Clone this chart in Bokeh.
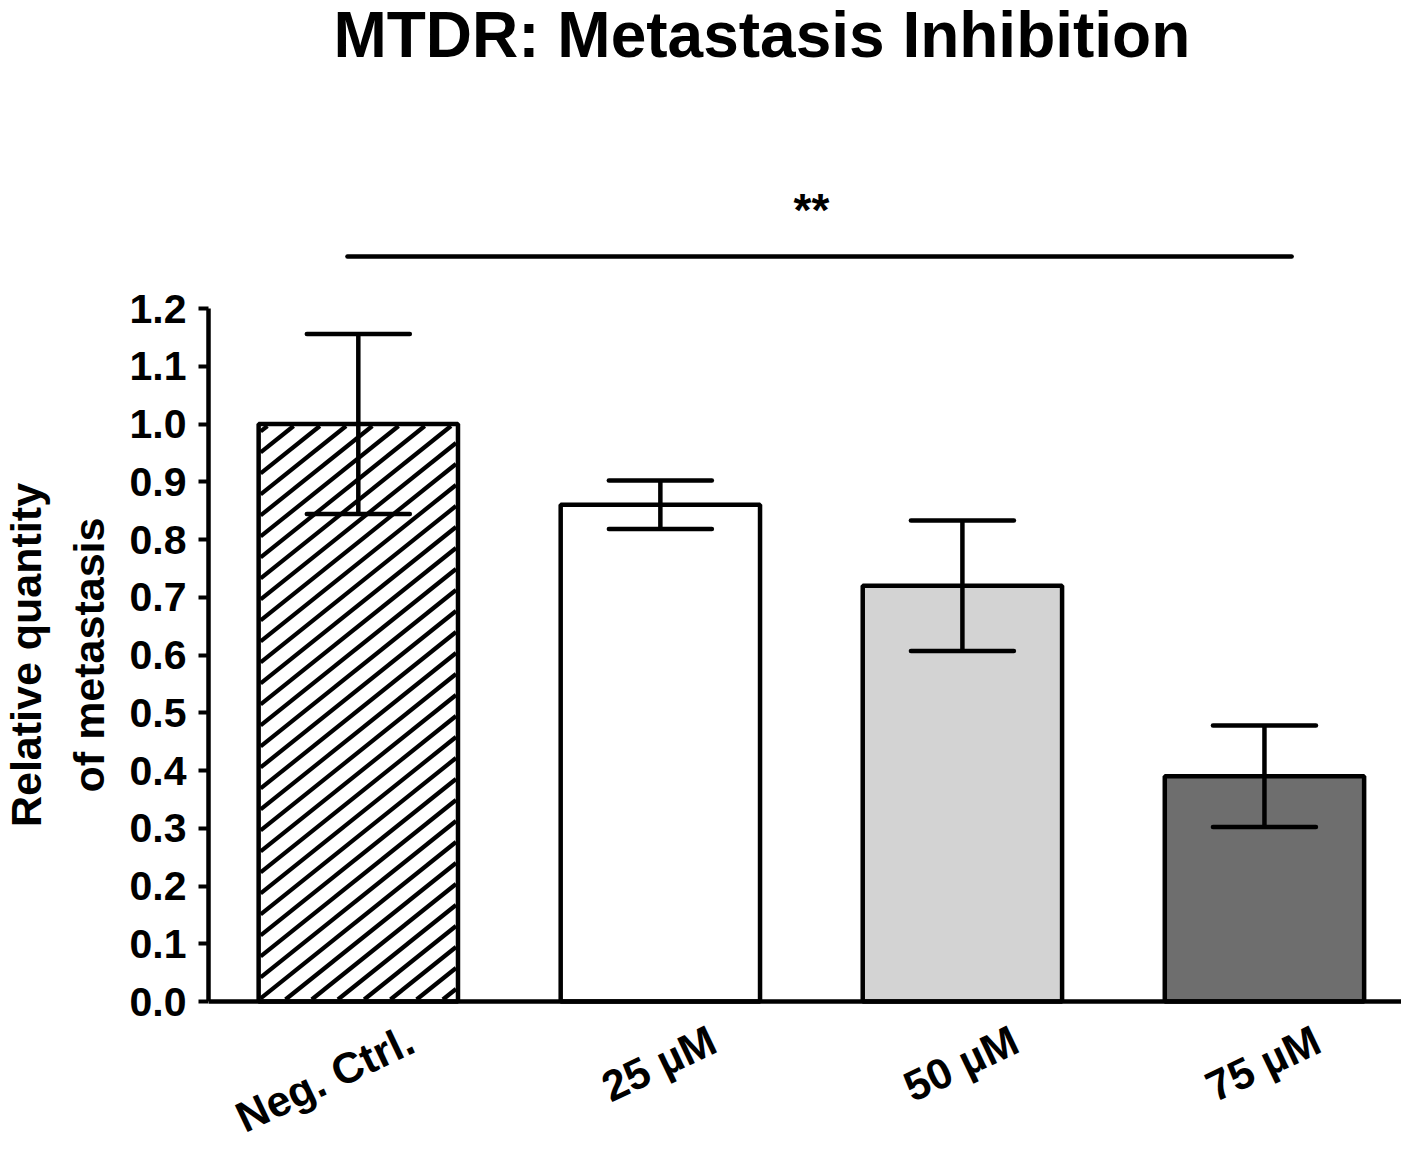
import numpy as np
from bokeh.plotting import figure
from bokeh.models import (ColumnDataSource, Whisker, TeeHead, FixedTicker, NumeralTickFormatter,
                          Range1d, Title, Span)
from bokeh.core.properties import value
from bokeh.embed import file_html
from bokeh.resources import INLINE

# ---- data ----
categories = ["Neg. Ctrl.", "25 µM", "50 µM", "75 µM"]
means = [1.00, 0.86, 0.72, 0.39]
sem = [0.156, 0.042, 0.113, 0.088]
fill_colors = ["white", "white", "#d3d3d3", "#6e6e6e"]
hatched = [True, False, False, False]
y_ticks = [0.0, 0.1, 0.2, 0.3, 0.4, 0.5, 0.6, 0.7, 0.8, 0.9, 1.0, 1.1, 1.2]
title_text = "MTDR: Metastasis Inhibition"
sig_text = "**"
y_label_lines = ["Relative quantity", "of metastasis"]

# ---- layout constants ----
FONT = "Liberation Sans"
W, H = 1401, 1143
PX_PER_X = 302.3
PX_PER_Y = 577.5
MB_LEFT = 207
FRAME_W = W - MB_LEFT
ZERO_PX = 1001                     # canvas row of y = 0
X0 = -0.496
Y0 = -(H - ZERO_PX) / PX_PER_Y
Y1 = Y0 + H / PX_PER_Y
BAR_W = 0.66
xs = list(range(len(categories)))
upper = [m + s for m, s in zip(means, sem)]
lower = [m - s for m, s in zip(means, sem)]

src = ColumnDataSource(dict(x=xs, top=means, upper=upper, lower=lower, fill=fill_colors))

p = figure(width=W, height=H, output_backend="svg", toolbar_location=None,
           x_range=Range1d(X0, X0 + FRAME_W / PX_PER_X), y_range=Range1d(Y0, Y1),
           min_border_left=MB_LEFT, min_border_right=0, min_border_top=0,
           min_border_bottom=0)
p.outline_line_color = None
p.xgrid.visible = False
p.ygrid.visible = False
p.background_fill_color = "white"

p.vbar(x="x", top="top", bottom=0, width=BAR_W, source=src,
       fill_color="fill", line_color=None)

# diagonal hatching of the control bar, clipped to the bar (style: slope/gap in pixels)
HATCH_SLOPE = 0.8
HATCH_GAP = 21.0
INSET = 2.0
hx0, hy0, hx1, hy1 = [], [], [], []
for xc, top, h in zip(xs, means, hatched):
    if not h:
        continue
    xl = (xc - BAR_W / 2) * PX_PER_X + INSET
    xr = (xc + BAR_W / 2) * PX_PER_X - INSET
    yb = INSET
    yt = top * PX_PER_Y - INSET
    c_lo = yb - HATCH_SLOPE * xr
    c_hi = yt - HATCH_SLOPE * xl
    for c in np.arange(c_lo + HATCH_GAP / 2, c_hi, HATCH_GAP):
        xa = max(xl, (yb - c) / HATCH_SLOPE)
        xb = min(xr, (yt - c) / HATCH_SLOPE)
        if xb <= xa:
            continue
        hx0.append(xa / PX_PER_X); hy0.append((HATCH_SLOPE * xa + c) / PX_PER_Y)
        hx1.append(xb / PX_PER_X); hy1.append((HATCH_SLOPE * xb + c) / PX_PER_Y)
p.segment(x0=hx0, y0=hy0, x1=hx1, y1=hy1, line_color="black", line_width=4.2)

# bar outlines on top
p.vbar(x="x", top="top", bottom=0, width=BAR_W, source=src,
       fill_color=None, line_color="black", line_width=4.5)

w = Whisker(base="x", upper="upper", lower="lower", source=src, level="overlay",
            line_width=4.5, line_color="black",
            upper_head=TeeHead(size=103, line_width=4.5, line_color="black", line_cap="round"),
            lower_head=TeeHead(size=103, line_width=4.5, line_color="black", line_cap="round"))
p.add_layout(w)

# x axis baseline at 0
p.add_layout(Span(location=0, dimension="width", line_color="black", line_width=4.5))

# category labels, rotated, through the x scale
LABEL_SHIFT = 0.175
p.text(x=[x + LABEL_SHIFT for x in xs], y=[0] * len(xs), text=categories, angle=0.445,
       y_offset=36, text_align="right", text_baseline="middle",
       text_font=value(FONT), text_font_style="bold", text_font_size="43px", text_color="black")

# significance bar
p.segment(x0=[-0.036], y0=[1.29], x1=[3.09], y1=[1.29], line_width=4.5, line_color="black",
          line_cap="round")
p.text(x=[1.5], y=[1.371], text=[sig_text], text_font=value(FONT), text_font_style="bold",
       text_font_size="46px", text_align="center", text_baseline="middle", text_color="black")

# title
p.text(x=[1.336], y=[1.673], text=[title_text], text_font=value(FONT), text_font_style="bold",
       text_font_size="64px", text_align="center", text_baseline="middle", text_color="black")

# y axis
ya = p.yaxis[0]
ya.bounds = (0, 1.2)
ya.ticker = FixedTicker(ticks=y_ticks)
ya.formatter = NumeralTickFormatter(format="0.0")
ya.axis_line_width = 4.5
ya.major_tick_line_width = 4
ya.major_tick_out = 10
ya.major_tick_in = 0
ya.minor_tick_line_color = None
ya.major_label_standoff = 12
ya.major_label_text_font = FONT
ya.major_label_text_font_style = "bold"
ya.major_label_text_font_size = "41px"
ya.major_label_text_color = "black"

p.xaxis.visible = False

# y axis title: two lines, each centred on the 0-1.2 span of the axis
LABEL_PX = 43
centre_px = H - (ZERO_PX - 0.6 * PX_PER_Y)       # distance of y=0.6 from frame bottom
est_len = {"Relative quantity": 8.002 * LABEL_PX, "of metastasis": 6.391 * LABEL_PX}
for line, standoff in zip(reversed(y_label_lines), [26, 0]):
    t = Title(text=line, align="left", vertical_align="middle",
              offset=centre_px - est_len[line] / 2, standoff=standoff,
              text_font=FONT, text_font_style="bold", text_font_size=f"{LABEL_PX}px",
              text_color="black")
    p.add_layout(t, "left")

open("out.html", "w").write(file_html(p, INLINE))
